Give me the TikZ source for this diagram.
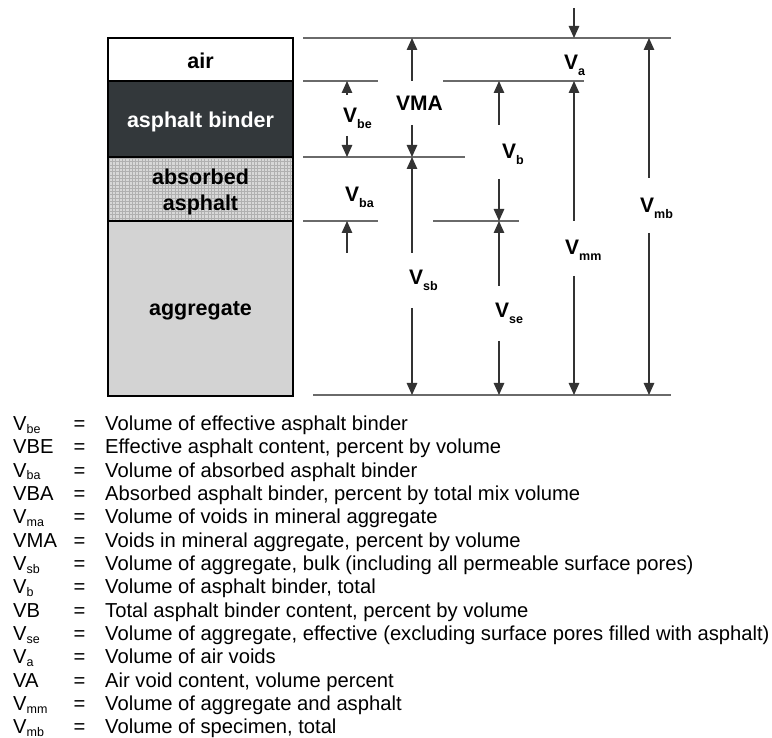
\documentclass[tikz,border=0pt]{standalone}
\usepackage{fontspec}
\setmainfont{Liberation Sans}
\usetikzlibrary{arrows.meta}
\definecolor{binder}{HTML}{33383B}
\definecolor{aggr}{HTML}{D3D3D3}
\definecolor{absfill}{HTML}{D8D8D8}
\definecolor{absdot}{HTML}{B0B0B0}
\definecolor{hline}{HTML}{6A6A6A}
\definecolor{darr}{HTML}{333333}
\newcommand{\dsub}[1]{\raisebox{-6pt}{\fontsize{12.5}{13}\selectfont #1}}
\newcommand{\lsub}[1]{\raisebox{-2.5pt}{\fontsize{12.5}{13}\selectfont #1}}
\begin{document}
\begin{tikzpicture}[x=1pt,y=-1pt,
  boxtext/.style={anchor=base,inner sep=0pt,font=\bfseries\fontsize{21.5}{26}\selectfont},
  dimlabel/.style={anchor=base west,inner sep=0pt,font=\bfseries\fontsize{21}{24}\selectfont},
  dimarrow/.style={draw=darr,line width=1.2pt,-{Triangle[width=10.5pt,length=12pt]}},
  refline/.style={draw=hline,line width=1.5pt},
  legsym/.style={anchor=base west,inner sep=0pt,font=\fontsize{20.2}{23}\selectfont},
  legeq/.style={anchor=base,inner sep=0pt,font=\fontsize{20.2}{23}\selectfont},
  legtext/.style={anchor=base west,inner sep=0pt,font=\fontsize{20.2}{23}\selectfont}]
\useasboundingbox (0,0) rectangle (772,738);
% ---- column of phases ----
\fill[white] (108,38) rectangle (293,81);
\fill[binder] (108,81) rectangle (293,157);
\fill[absfill] (108,157) rectangle (293,221);
\draw[absdot,line width=0.4pt,step=3.3pt] (108,157) grid (293,221);
\fill[aggr] (108,221) rectangle (293,396);
\draw[black,line width=1.6pt] (108,81) -- (293,81);
\draw[black,line width=1.6pt] (108,157) -- (293,157);
\draw[black,line width=1.6pt] (108,221) -- (293,221);
\draw[black,line width=1.7pt] (108,38) rectangle (293,396);
\node[boxtext] (tair) at (200.5,69) {air};
\node[boxtext,text=white] (tbinder) at (200.5,128) {asphalt binder};
\node[boxtext] (tabs1) at (200.5,185) {absorbed};
\node[boxtext] (tabs2) at (200.5,211) {asphalt};
\node[boxtext] (taggr) at (200.5,316) {aggregate};
% ---- reference lines ----
\coordinate (hT1) at (303,38);  \coordinate (hT2) at (671,38);
\coordinate (hA1) at (303,81);  \coordinate (hA2) at (378,81);
\coordinate (hA3) at (443,81);  \coordinate (hA4) at (584,81);
\coordinate (hB1) at (303,157); \coordinate (hB2) at (465,157);
\coordinate (hC1) at (303,221); \coordinate (hC2) at (378,221);
\coordinate (hC3) at (433,221); \coordinate (hC4) at (519,221);
\coordinate (hD1) at (313,395); \coordinate (hD2) at (671,395);
\draw[refline] (hT1) -- (hT2);
\draw[refline] (hA1) -- (hA2);
\draw[refline] (hA3) -- (hA4);
\draw[refline] (hB1) -- (hB2);
\draw[refline] (hC1) -- (hC2);
\draw[refline] (hC3) -- (hC4);
\draw[refline] (hD1) -- (hD2);
% ---- dimension arrows ----
\coordinate (a1s) at (347,95);  \coordinate (a1e) at (347,81);
\coordinate (a2s) at (347,136); \coordinate (a2e) at (347,157);
\coordinate (a3s) at (347,253); \coordinate (a3e) at (347,221);
\draw[dimarrow] (a1s) -- (a1e);
\draw[dimarrow] (a2s) -- (a2e);
\draw[dimarrow] (a3s) -- (a3e);
\coordinate (b1s) at (412,81);  \coordinate (b1e) at (412,38);
\coordinate (b2s) at (412,125); \coordinate (b2e) at (412,157);
\coordinate (b3s) at (412,253); \coordinate (b3e) at (412,157);
\coordinate (b4s) at (412,308); \coordinate (b4e) at (412,395);
\draw[dimarrow] (b1s) -- (b1e);
\draw[dimarrow] (b2s) -- (b2e);
\draw[dimarrow] (b3s) -- (b3e);
\draw[dimarrow] (b4s) -- (b4e);
\coordinate (c1s) at (499,125); \coordinate (c1e) at (499,81);
\coordinate (c2s) at (499,179); \coordinate (c2e) at (499,221);
\coordinate (c3s) at (499,286); \coordinate (c3e) at (499,221);
\coordinate (c4s) at (499,341); \coordinate (c4e) at (499,395);
\draw[dimarrow] (c1s) -- (c1e);
\draw[dimarrow] (c2s) -- (c2e);
\draw[dimarrow] (c3s) -- (c3e);
\draw[dimarrow] (c4s) -- (c4e);
\coordinate (d1s) at (574,8);   \coordinate (d1e) at (574,38);
\coordinate (d2s) at (574,221); \coordinate (d2e) at (574,81);
\coordinate (d3s) at (574,276); \coordinate (d3e) at (574,395);
\draw[dimarrow] (d1s) -- (d1e);
\draw[dimarrow] (d2s) -- (d2e);
\draw[dimarrow] (d3s) -- (d3e);
\coordinate (e1s) at (649,178); \coordinate (e1e) at (649,38);
\coordinate (e2s) at (649,233); \coordinate (e2e) at (649,395);
\draw[dimarrow] (e1s) -- (e1e);
\draw[dimarrow] (e2s) -- (e2e);
% ---- dimension labels ----
\node[dimlabel] (lVbe) at (343,123) {V\dsub{be}};
\node[dimlabel] (lVba) at (345,202) {V\dsub{ba}};
\node[dimlabel] (lVMA) at (396,111) {VMA};
\node[dimlabel] (lVsb) at (409,285) {V\dsub{sb}};
\node[dimlabel] (lVb)  at (502,159) {V\dsub{b}};
\node[dimlabel] (lVse) at (495,318) {V\dsub{se}};
\node[dimlabel] (lVa)  at (564,70)  {V\dsub{a}};
\node[dimlabel] (lVmm) at (565,255) {V\dsub{mm}};
\node[dimlabel] (lVmb) at (640,213) {V\dsub{mb}};
% ---- legend ----
\node[legsym] (s1)  at (13,430.5) {V\lsub{be}};
\node[legsym] (s2)  at (13,453.8) {VBE};
\node[legsym] (s3)  at (13,477.2) {V\lsub{ba}};
\node[legsym] (s4)  at (13,500.5) {VBA};
\node[legsym] (s5)  at (13,523.8) {V\lsub{ma}};
\node[legsym] (s6)  at (13,547.2) {VMA};
\node[legsym] (s7)  at (13,570.5) {V\lsub{sb}};
\node[legsym] (s8)  at (13,593.8) {V\lsub{b}};
\node[legsym] (s9)  at (13,617.2) {VB};
\node[legsym] (s10) at (13,640.5) {V\lsub{se}};
\node[legsym] (s11) at (13,663.8) {V\lsub{a}};
\node[legsym] (s12) at (13,687.2) {VA};
\node[legsym] (s13) at (13,710.5) {V\lsub{mm}};
\node[legsym] (s14) at (13,733.8) {V\lsub{mb}};
\node[legeq] (q1)  at (79.5,430.5) {=};
\node[legeq] (q2)  at (79.5,453.8) {=};
\node[legeq] (q3)  at (79.5,477.2) {=};
\node[legeq] (q4)  at (79.5,500.5) {=};
\node[legeq] (q5)  at (79.5,523.8) {=};
\node[legeq] (q6)  at (79.5,547.2) {=};
\node[legeq] (q7)  at (79.5,570.5) {=};
\node[legeq] (q8)  at (79.5,593.8) {=};
\node[legeq] (q9)  at (79.5,617.2) {=};
\node[legeq] (q10) at (79.5,640.5) {=};
\node[legeq] (q11) at (79.5,663.8) {=};
\node[legeq] (q12) at (79.5,687.2) {=};
\node[legeq] (q13) at (79.5,710.5) {=};
\node[legeq] (q14) at (79.5,733.8) {=};
\node[legtext] (t1)  at (105,430.5) {Volume of effective asphalt binder};
\node[legtext] (t2)  at (105,453.8) {Effective asphalt content, percent by volume};
\node[legtext] (t3)  at (105,477.2) {Volume of absorbed asphalt binder};
\node[legtext] (t4)  at (105,500.5) {Absorbed asphalt binder, percent by total mix volume};
\node[legtext] (t5)  at (105,523.8) {Volume of voids in mineral aggregate};
\node[legtext] (t6)  at (105,547.2) {Voids in mineral aggregate, percent by volume};
\node[legtext] (t7)  at (105,570.5) {Volume of aggregate, bulk (including all permeable surface pores)};
\node[legtext] (t8)  at (105,593.8) {Volume of asphalt binder, total};
\node[legtext] (t9)  at (105,617.2) {Total asphalt binder content, percent by volume};
\node[legtext] (t10) at (105,640.5) {Volume of aggregate, effective (excluding surface pores filled with asphalt)};
\node[legtext] (t11) at (105,663.8) {Volume of air voids};
\node[legtext] (t12) at (105,687.2) {Air void content, volume percent};
\node[legtext] (t13) at (105,710.5) {Volume of aggregate and asphalt};
\node[legtext] (t14) at (105,733.8) {Volume of specimen, total};
\end{tikzpicture}
\end{document}
